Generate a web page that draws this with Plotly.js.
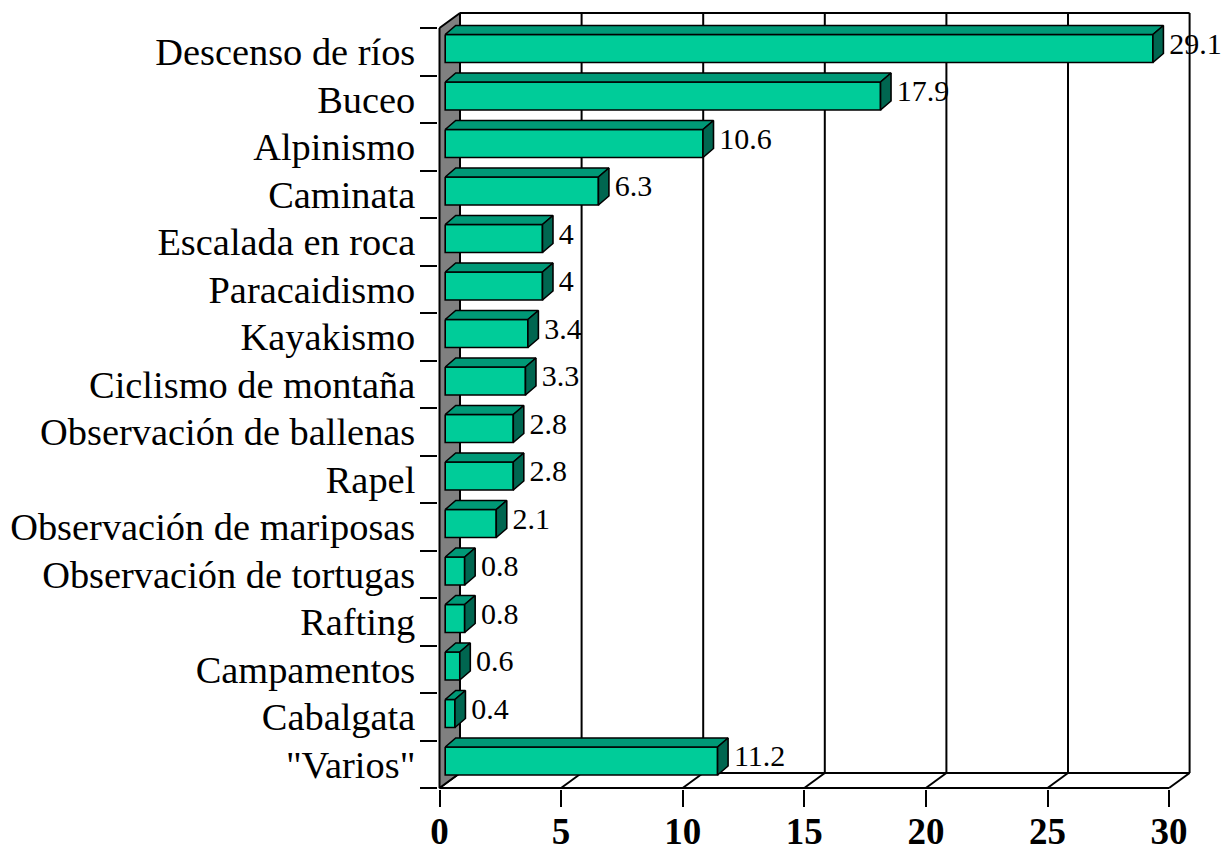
<!DOCTYPE html>
<html><head><meta charset="utf-8">
<script src="https://cdn.plot.ly/plotly-3.0.1.min.js"></script>
<style>html,body{margin:0;padding:0;background:#fff}</style>
</head><body><div id="chart" style="width:1224px;height:853px"></div>
<script>
const categories = ["Descenso de ríos","Buceo","Alpinismo","Caminata","Escalada en roca","Paracaidismo","Kayakismo","Ciclismo de montaña","Observación de ballenas","Rapel","Observación de mariposas","Observación de tortugas","Rafting","Campamentos","Cabalgata","\"Varios\""];
const values = [29.1,17.9,10.6,6.3,4,4,3.4,3.3,2.8,2.8,2.1,0.8,0.8,0.6,0.4,11.2];
const valueLabels = ["29.1","17.9","10.6","6.3","4","4","3.4","3.3","2.8","2.8","2.1","0.8","0.8","0.6","0.4","11.2"];
const xTicks = [0,5,10,15,20,25,30];
const xTickText = ["0","5","10","15","20","25","30"];

// ---- geometry helpers (pixel sizes converted to axis units) ----
const W = 1224, H = 853;
const X0PX = 439.5, PXX = 24.32;   // x: value 0 at 439.5px, px per unit
const Y0PX = 28, PXY = 47.5;       // y: slot 0 top at 28px, px per slot
const ML = 438, MR = 20, MT = 8, MB = 64;
const ux = p => p / PXX, uy = p => p / PXY;
const xMin = (ML - X0PX) / PXX, xMax = (W - MR - X0PX) / PXX;
const yTop = (MT - Y0PX) / PXY, yBot = (H - MB - Y0PX) / PXY;
const n = categories.length;
const xEnd = xTicks[xTicks.length - 1];
const wdx = ux(20.5), wdy = uy(15);
const barOff = ux(5.7), bdx = ux(10.5), bdy = uy(9);
const fTop = uy(6.5), fBot = uy(34.5);

const BLACK = '#000';
const traces = [];

// back wall outline + vertical gridlines + floor
{
  const x = [], y = [];
  x.push(wdx, xEnd + wdx, null); y.push(-wdy, -wdy, null);
  xTicks.slice(1).forEach(t => { x.push(t + wdx, t + wdx, null); y.push(-wdy, n - wdy, null); });
  x.push(wdx, xEnd + wdx, null); y.push(n - wdy, n - wdy, null);
  xTicks.forEach(t => { x.push(t, t + wdx, null); y.push(n, n - wdy, null); });
  x.push(0, xEnd, null); y.push(n, n, null);
  traces.push({type:'scatter', mode:'lines', x, y, line:{color:BLACK, width:2}, hoverinfo:'skip', showlegend:false});
}
// left (gray) wall
traces.push({type:'scatter', mode:'lines', x:[0, wdx, wdx, 0, 0], y:[0, -wdy, n - wdy, n, 0],
  fill:'toself', fillcolor:'#808080', line:{color:BLACK, width:2}, hoverinfo:'skip', showlegend:false});

// bars (front, top, side faces)
const fx = [], fy = [], tx = [], ty = [], sx = [], sy = [];
values.forEach((v, k) => {
  const x0 = barOff, x1 = v + barOff, yt = k + fTop, yb = k + fBot;
  fx.push(x0, x1, x1, x0, x0, null); fy.push(yt, yt, yb, yb, yt, null);
  tx.push(x0, x0 + bdx, x1 + bdx, x1, x0, null); ty.push(yt, yt - bdy, yt - bdy, yt, yt, null);
  sx.push(x1, x1 + bdx, x1 + bdx, x1, x1, null); sy.push(yt, yt - bdy, yb - bdy, yb, yt, null);
});
traces.push({type:'scatter', mode:'lines', x:fx, y:fy, fill:'toself', fillcolor:'#00CC99', line:{color:BLACK, width:1.6}, hoverinfo:'skip', showlegend:false});
traces.push({type:'scatter', mode:'lines', x:tx, y:ty, fill:'toself', fillcolor:'#009977', line:{color:BLACK, width:1.6}, hoverinfo:'skip', showlegend:false});
traces.push({type:'scatter', mode:'lines', x:sx, y:sy, fill:'toself', fillcolor:'#006650', line:{color:BLACK, width:1.6}, hoverinfo:'skip', showlegend:false});

// value labels
traces.push({type:'scatter', mode:'text', x: values.map(v => v + ux(22)), y: values.map((v, k) => k + uy(18)),
  text: valueLabels, textposition:'middle right', cliponaxis:false,
  textfont:{family:'Liberation Serif', size:30, color:BLACK}, hoverinfo:'skip', showlegend:false});

// dummy trace for boundary-tick axis
traces.push({type:'scatter', mode:'none', x:[0], y:[0], yaxis:'y2', hoverinfo:'skip', showlegend:false});

const layout = {
  width: W, height: H,
  margin: {l: ML, r: MR, t: MT, b: MB},
  paper_bgcolor: '#fff', plot_bgcolor: 'rgba(0,0,0,0)',
  showlegend: false,
  xaxis: {range:[xMin, xMax], tickvals: xTicks, ticktext: xTickText, ticks:'outside', ticklen:17, tickwidth:2, tickcolor:BLACK,
    ticklabelstandoff: -7,
    tickfont:{family:'Liberation Serif', size:37, color:BLACK, weight:'bold'},
    showgrid:false, zeroline:false, showline:false, fixedrange:true},
  yaxis: {range:[yBot, yTop], tickvals: categories.map((c, k) => k + 0.5), ticktext: categories,
    ticks:'outside', ticklen:14, tickcolor:'rgba(0,0,0,0)',
    tickfont:{family:'Liberation Serif', size:38.4, color:BLACK},
    showgrid:false, zeroline:false, showline:false, fixedrange:true},
  yaxis2: {overlaying:'y', anchor:'x', side:'left', range:[yBot, yTop],
    tickvals: Array.from({length: n + 1}, (_, k) => k), ticks:'outside', ticklen:17, tickwidth:2, tickcolor:BLACK,
    showticklabels:false, showgrid:false, zeroline:false, showline:false, fixedrange:true}
};
Plotly.newPlot('chart', traces, layout, {displayModeBar:false, staticPlot:true});
</script>
</body></html>
